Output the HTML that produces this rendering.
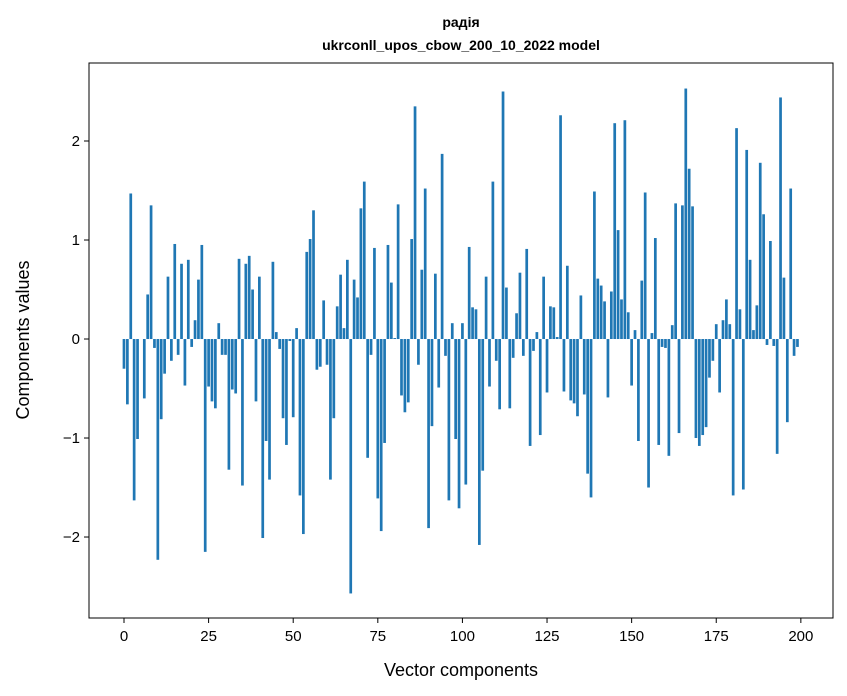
<!DOCTYPE html>
<html><head><meta charset="utf-8"><style>body{margin:0;background:#fff}svg{display:block}text{font-family:"Liberation Sans","DejaVu Sans",sans-serif}</style></head>
<body>
<svg id="chart" width="847" height="696" viewBox="0 0 847 696" xmlns="http://www.w3.org/2000/svg">
<text x="461" y="27" text-anchor="middle" font-size="14" font-weight="bold">радія</text>
<text x="461" y="50" text-anchor="middle" font-size="14" font-weight="bold">ukrconll_upos_cbow_200_10_2022 model</text>
<g id="bars"></g>
<rect x="89" y="63" width="744" height="555" fill="none" stroke="#000" stroke-width="1"/>
<g id="xaxis"></g>
<g id="yaxis"></g>
<text x="461" y="676" text-anchor="middle" font-size="18">Vector components</text>
<text transform="translate(29,340) rotate(-90)" text-anchor="middle" font-size="18">Components values</text>
</svg>
<script>
const values = [-0.30,-0.66,1.47,-1.63,-1.01,0.0,-0.60,0.45,1.35,-0.09,-2.23,-0.81,-0.35,0.63,-0.22,0.96,-0.16,0.76,-0.47,0.80,
-0.08,0.19,0.60,0.95,-2.15,-0.48,-0.63,-0.70,0.16,-0.16,-0.16,-1.32,-0.51,-0.55,0.81,-1.48,0.76,0.84,0.50,-0.63,
0.63,-2.01,-1.03,-1.42,0.78,0.07,-0.10,-0.80,-1.07,-0.02,-0.79,0.11,-1.58,-1.97,0.88,1.01,1.30,-0.31,-0.28,0.39,
-0.26,-1.42,-0.80,0.33,0.65,0.11,0.80,-2.57,0.60,0.42,1.32,1.59,-1.20,-0.16,0.92,-1.61,-1.94,-1.05,0.95,0.57,
0.01,1.36,-0.57,-0.74,-0.64,1.01,2.35,-0.26,0.70,1.52,-1.91,-0.88,0.66,-0.49,1.87,-0.17,-1.63,0.16,-1.01,-1.71,
0.16,-1.47,0.93,0.32,0.30,-2.08,-1.33,0.63,-0.48,1.59,-0.22,-0.71,2.50,0.52,-0.70,-0.19,0.26,0.67,-0.17,0.91,
-1.08,-0.12,0.07,-0.97,0.63,-0.54,0.33,0.32,0.02,2.26,-0.53,0.74,-0.62,-0.65,-0.78,0.44,-0.56,-1.36,-1.60,1.49,
0.61,0.54,0.38,-0.59,0.48,2.18,1.10,0.40,2.21,0.27,-0.47,0.09,-1.03,0.59,1.48,-1.50,0.06,1.02,-1.07,-0.08,
-0.09,-1.18,0.14,1.37,-0.95,1.35,2.53,1.72,1.34,-1.00,-1.08,-0.97,-0.89,-0.39,-0.22,0.15,-0.54,0.19,0.40,0.15,
-1.58,2.13,0.30,-1.52,1.91,0.80,0.09,0.34,1.78,1.26,-0.06,0.99,-0.07,-1.16,2.44,0.62,-0.84,1.52,-0.17,-0.08];
const xTicks = [0,25,50,75,100,125,150,175,200];
const yTicks = [-2,-1,0,1,2];
const yTickLabels = ["\u22122","\u22121","0","1","2"];

const NS="http://www.w3.org/2000/svg";
const X0=89,X1=833,Y0=618,Y1=63;
const xMin=-10.34,xMax=209.5,yMin=-2.818,yMax=2.788;
const sx=v=>X0+(v-xMin)/(xMax-xMin)*(X1-X0);
const sy=v=>Y0-(v-yMin)/(yMax-yMin)*(Y0-Y1);
const bars=document.getElementById('bars');
values.forEach((v,i)=>{
  const r=document.createElementNS(NS,'rect');
  
  
  const x=sx(i-0.4),w=sx(i+0.4)-x;
  const top=sy(Math.max(v,0)),bot=sy(Math.min(v,0));
  r.setAttribute('x',x);r.setAttribute('width',w);
  r.setAttribute('y',top);r.setAttribute('height',Math.max(bot-top,0));
  r.setAttribute('fill','#1f77b4');
  bars.appendChild(r);
});
const xa=document.getElementById('xaxis');
xTicks.forEach(t=>{
  const l=document.createElementNS(NS,'line');
  
  
  l.setAttribute('x1',sx(t));l.setAttribute('x2',sx(t));l.setAttribute('y1',Y0);l.setAttribute('y2',Y0+5);
  l.setAttribute('stroke','#000');xa.appendChild(l);
  const tx=document.createElementNS(NS,'text');
  
  
  tx.setAttribute('x',sx(t));tx.setAttribute('y',Y0+23);tx.setAttribute('text-anchor','middle');tx.setAttribute('font-size','15');
  tx.textContent=t;xa.appendChild(tx);
});
const ya=document.getElementById('yaxis');
yTicks.forEach((t,k)=>{
  const l=document.createElementNS(NS,'line');
  
  
  l.setAttribute('x1',X0-5);l.setAttribute('x2',X0);l.setAttribute('y1',sy(t));l.setAttribute('y2',sy(t));
  l.setAttribute('stroke','#000');ya.appendChild(l);
  const tx=document.createElementNS(NS,'text');
  
  
  tx.setAttribute('x',X0-9);tx.setAttribute('y',sy(t)+5);tx.setAttribute('text-anchor','end');tx.setAttribute('font-size','15');
  tx.textContent=yTickLabels[k];ya.appendChild(tx);
});
</script>
</body></html>
